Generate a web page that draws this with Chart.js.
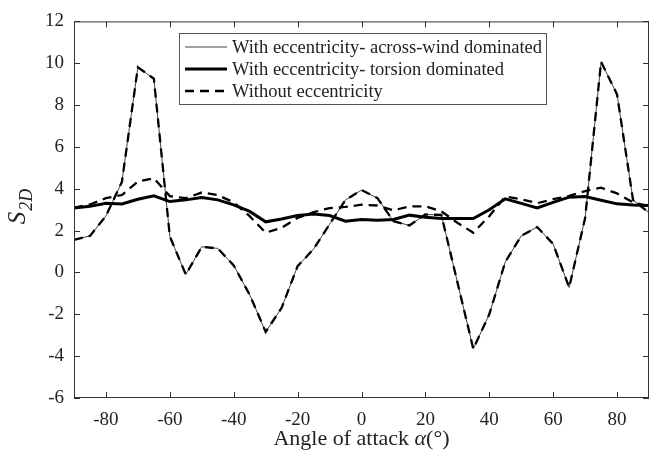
<!DOCTYPE html>
<html>
<head>
<meta charset="utf-8">
<script src="https://cdn.jsdelivr.net/npm/chart.js@4/dist/chart.umd.min.js"></script>
<style>
html,body{margin:0;padding:0;background:#fff;}
#wrap{width:650px;height:462px;}
</style>
</head>
<body>
<div id="wrap"><canvas id="c" width="650" height="462"></canvas></div>
<script>
// ---- data ----
const angles = [-90,-85,-80,-75,-70,-65,-60,-55,-50,-45,-40,-35,-30,-25,-20,-15,-10,-5,0,5,10,15,20,25,30,35,40,45,50,55,60,65,70,75,80,85,90];
const acrossWind = [1.56,1.75,2.7,4.33,9.81,9.26,1.72,-0.1,1.23,1.15,0.34,-1.07,-2.84,-1.69,0.3,1.12,2.3,3.47,3.94,3.55,2.45,2.25,2.77,2.75,-0.45,-3.65,-2.0,0.5,1.75,2.17,1.36,-0.72,2.6,10.07,8.51,3.47,2.85];
const torsion = [3.08,3.16,3.31,3.27,3.5,3.66,3.39,3.47,3.58,3.47,3.23,2.92,2.42,2.56,2.72,2.8,2.72,2.45,2.53,2.5,2.53,2.74,2.64,2.58,2.58,2.58,3.0,3.52,3.3,3.08,3.35,3.6,3.63,3.45,3.28,3.22,3.2];
const noEccAcross = [1.56,1.75,2.7,4.33,9.81,9.26,1.72,-0.1,1.23,1.15,0.34,-1.07,-2.84,-1.69,0.3,1.12,2.3,3.47,3.94,3.55,2.45,2.25,2.77,2.75,-0.45,-3.65,-2.0,0.5,1.75,2.17,1.36,-0.72,2.6,10.07,8.51,3.47,2.85];
const noEccTorsion = [3.1,3.25,3.55,3.7,4.35,4.5,3.65,3.55,3.82,3.7,3.35,2.69,1.9,2.14,2.61,2.88,3.08,3.13,3.24,3.2,2.97,3.16,3.16,2.92,2.38,1.9,2.69,3.63,3.5,3.31,3.5,3.66,3.89,4.05,3.78,3.35,3.16];
const xTicks = [-80,-60,-40,-20,0,20,40,60,80];
const yTicks = [-6,-4,-2,0,2,4,6,8,10,12];
const legendLabels = ['With eccentricity- across-wind dominated','With eccentricity- torsion dominated','Without eccentricity'];

const pts = arr => angles.map((a,i)=>({x:a,y:arr[i]}));
const SERIF = '"Liberation Serif","Times New Roman",serif';

const frame = {
  id:'frame',
  afterDatasetsDraw(chart){
    const {ctx, chartArea:a, scales:{x,y}} = chart;
    ctx.save();
    ctx.strokeStyle = '#333';
    ctx.lineWidth = 1;
    ctx.strokeRect(a.left+0.5, a.top+0.5, a.right-a.left-1, a.bottom-a.top-1);
    ctx.beginPath();
    const tl = 6;
    xTicks.forEach(v=>{
      const px = Math.round(x.getPixelForValue(v))+0.5;
      ctx.moveTo(px,a.bottom); ctx.lineTo(px,a.bottom-tl);
      ctx.moveTo(px,a.top); ctx.lineTo(px,a.top+tl);
    });
    yTicks.forEach(v=>{
      const py = Math.round(y.getPixelForValue(v))+0.5;
      ctx.moveTo(a.left,py); ctx.lineTo(a.left+tl,py);
      ctx.moveTo(a.right,py); ctx.lineTo(a.right-tl,py);
    });
    ctx.stroke();

    // legend
    const bx=179.5, by=33.5, bw=367, bh=71;
    ctx.fillStyle='#fff';
    ctx.fillRect(bx,by,bw,bh);
    ctx.strokeStyle='#555';
    ctx.strokeRect(bx,by,bw,bh);
    const rows=[47,69,91];
    const ds = chart.data.datasets;
    rows.forEach((ry,i)=>{
      const d = ds[i];
      ctx.beginPath();
      ctx.strokeStyle = d.borderColor;
      ctx.lineWidth = d.borderWidth;
      ctx.setLineDash(d.borderDash||[]);
      ctx.moveTo(185,ry); ctx.lineTo(227,ry);
      ctx.stroke();
      ctx.setLineDash([]);
      ctx.fillStyle='#222';
      ctx.font='18.5px '+SERIF;
      ctx.textBaseline='middle';
      ctx.textAlign='left';
      ctx.fillText(legendLabels[i],232,ry+1);
    });

    // axis titles
    ctx.fillStyle='#222';
    ctx.textBaseline='alphabetic';
    ctx.textAlign='left';
    const p1='Angle of attack ', p2='\u03b1', p3='(\u00b0)';
    ctx.font='22px '+SERIF; const w1=ctx.measureText(p1).width, w3=ctx.measureText(p3).width;
    ctx.font='italic 22px '+SERIF; const w2=ctx.measureText(p2).width;
    let sx = (a.left+a.right)/2 - (w1+w2+w3)/2;
    const base=445;
    ctx.font='22px '+SERIF; ctx.fillText(p1,sx,base);
    ctx.font='italic 22px '+SERIF; ctx.fillText(p2,sx+w1,base);
    ctx.font='22px '+SERIF; ctx.fillText(p3,sx+w1+w2,base);

    ctx.save();
    ctx.translate(25,207);
    ctx.rotate(-Math.PI/2);
    ctx.font='italic 25px '+SERIF; const ws=ctx.measureText('S').width;
    ctx.font='italic 18px '+SERIF; const wd=ctx.measureText('2D').width;
    const st=-(ws+wd)/2;
    ctx.font='italic 25px '+SERIF; ctx.fillText('S',st,0);
    ctx.font='italic 18px '+SERIF; ctx.fillText('2D',st+ws+1,7);
    ctx.restore();
    ctx.restore();
  }
};

new Chart(document.getElementById('c'),{
  type:'line',
  data:{
    datasets:[
      {label:legendLabels[0],data:pts(acrossWind),borderColor:'#444',borderWidth:1,pointRadius:0,fill:false,tension:0,order:3},
      {label:legendLabels[1],data:pts(torsion),borderColor:'#000',borderWidth:3,pointRadius:0,fill:false,tension:0,order:2},
      {label:legendLabels[2],data:pts(noEccAcross),borderColor:'#000',borderWidth:2.3,borderDash:[9,6],pointRadius:0,fill:false,tension:0,order:1},
      {label:legendLabels[2],data:pts(noEccTorsion),borderColor:'#000',borderWidth:2.3,borderDash:[9,6],pointRadius:0,fill:false,tension:0,order:1}
    ]
  },
  options:{
    responsive:false,
    devicePixelRatio:1,
    animation:false,
    layout:{padding:{top:15,right:1,left:0,bottom:0}},
    plugins:{legend:{display:false},tooltip:{enabled:false}},
    scales:{
      x:{type:'linear',min:-90,max:90,
        afterBuildTicks(s){s.ticks=xTicks.map(v=>({value:v}));},
        afterFit(s){s.height=64;},
        grid:{display:false,drawTicks:false},border:{display:false},
        ticks:{padding:11,color:'#222',font:{family:SERIF,size:19},maxRotation:0,autoSkip:false}},
      y:{type:'linear',min:-6,max:12,
        afterBuildTicks(s){s.ticks=yTicks.map(v=>({value:v}));},
        afterFit(s){s.width=74;},
        grid:{display:false,drawTicks:false},border:{display:false},
        ticks:{padding:10,color:'#222',font:{family:SERIF,size:19},autoSkip:false}}
    }
  },
  plugins:[frame]
});
</script>
</body>
</html>
